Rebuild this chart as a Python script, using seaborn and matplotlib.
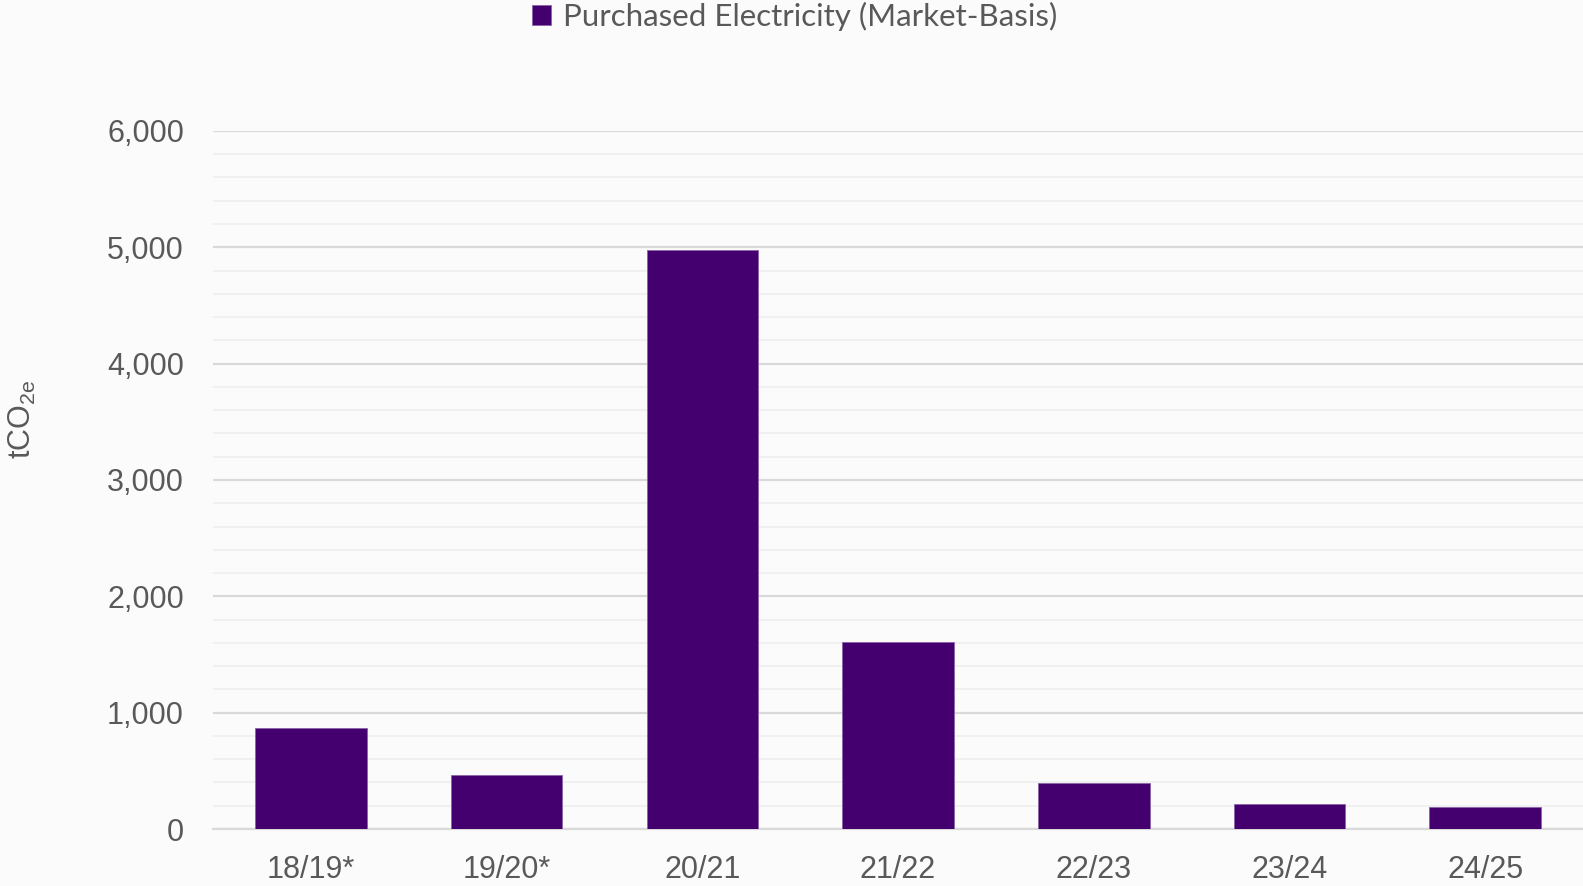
import matplotlib
matplotlib.use("Agg")
import matplotlib.pyplot as plt
import seaborn as sns
import pandas as pd
from matplotlib.ticker import MultipleLocator, FuncFormatter

years = ["18/19*", "19/20*", "20/21", "21/22", "22/23", "23/24", "24/25"]
emissions = [866, 461, 4980, 1610, 395, 218, 186]
series_name = "Purchased Electricity (Market-Basis)"

df = pd.DataFrame({"year": years, "tco2e": emissions})

sns.set_theme(style="white")
plt.rcParams["font.family"] = ["Liberation Sans", "DejaVu Sans"]
plt.rcParams["mathtext.fontset"] = "custom"
plt.rcParams["mathtext.rm"] = "Liberation Sans"

bg = "#FBFBFB"
fig = plt.figure(figsize=(15.83, 8.86), dpi=100, facecolor=bg)
ax = fig.add_axes([0.1346, 0.0643, 0.8654, 0.7879])
ax.set_facecolor(bg)

sns.barplot(data=df, x="year", y="tco2e", color="#44006E", saturation=1,
            width=0.57, edgecolor="#8A64A8", linewidth=0.6,
            label=series_name, ax=ax, zorder=3)

ax.set_xlim(-0.5, 6.5)
ax.set_ylim(0, 6000)
ax.yaxis.set_major_locator(MultipleLocator(1000))
ax.yaxis.set_minor_locator(MultipleLocator(200))
ax.yaxis.set_major_formatter(FuncFormatter(lambda v, p: f"{int(v):,}"))
ax.grid(axis="y", which="major", color="#D9D9D9", linewidth=1.6, zorder=0)
ax.grid(axis="y", which="minor", color="#F0F0F0", linewidth=1.4, zorder=0)
ax.set_axisbelow(True)
for s in ["top", "right", "left"]:
    ax.spines[s].set_visible(False)
ax.spines["bottom"].set_color("#D9D9D9")
ax.spines["bottom"].set_linewidth(1.6)

ax.tick_params(axis="both", which="both", length=0, labelsize=22, colors="#595959")
ax.tick_params(axis="y", pad=21)
ax.tick_params(axis="x", pad=19)
ax.set_xlabel("")
ax.set_ylabel("")
fig.text(0.014, 0.527, r"tCO$_{\mathrm{2e}}$", rotation=90, fontsize=22, color="#595959",
         ha="center", va="center")

leg = ax.get_legend()
if leg is not None:
    leg.remove()
handles, labels = ax.get_legend_handles_labels()
fig.legend(handles[:1], labels[:1], loc="upper center", bbox_to_anchor=(0.502, 1.03),
           frameon=False, labelcolor="#595959", handlelength=0.6,
           handleheight=0.6, handletextpad=0.4, prop={"family": "Lato", "size": 22.5})

fig.savefig("out.png", dpi=100, facecolor=bg)
